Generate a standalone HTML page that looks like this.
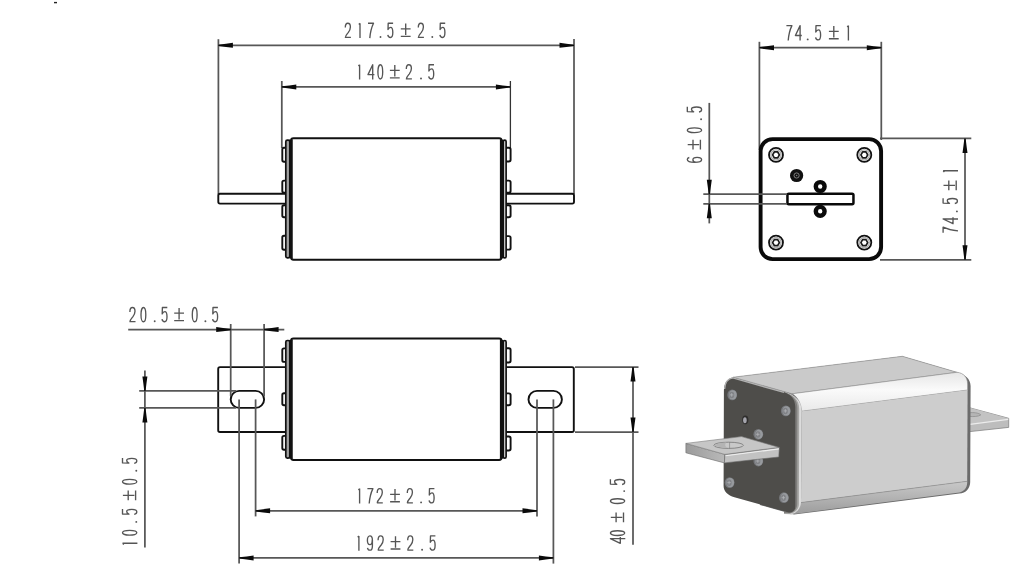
<!DOCTYPE html>
<html><head><meta charset="utf-8"><title>Fuse drawing</title>
<style>html,body{margin:0;padding:0;background:#fff;}svg{display:block;} .t{fill:none;stroke:#555555;stroke-width:1.35px;stroke-linejoin:round;}</style>
</head><body>
<svg width="1030" height="578" viewBox="0 0 1030 578" font-family="Liberation Sans, sans-serif">
<rect width="1030" height="578" fill="#fff"/>
<defs>
<linearGradient id="hl" x1="0" y1="0" x2="0" y2="1"><stop offset="0" stop-color="#e6e6e6"/><stop offset="0.45" stop-color="#fafafa"/><stop offset="1" stop-color="#e9e9e9"/></linearGradient>
<linearGradient id="bot" x1="0" y1="0" x2="0" y2="1"><stop offset="0" stop-color="#c9c9c9"/><stop offset="1" stop-color="#9c9c9c"/></linearGradient>
<linearGradient id="bls" x1="0" y1="0" x2="1" y2="0"><stop offset="0" stop-color="#9b9b9b"/><stop offset="1" stop-color="#b9b9b9"/></linearGradient>
<radialGradient id="scr" cx="0.6" cy="0.4" r="0.6"><stop offset="0" stop-color="#b4b4b8"/><stop offset="1" stop-color="#6f6f74"/></radialGradient>
</defs><path d="M968,407.3 L1008.7,418.3 L1008.7,427.4 L968,431.8 Z" fill="#bdbdbd" stroke="#7a7a7a" stroke-width="0.7"/><path d="M968,407.3 L1008.7,418.4 L1008.7,419.1 L968,424.4 Z" fill="#c3c3c3"/><path d="M968,424.6 L1008.2,419.4" stroke="#ececec" stroke-width="1.1"/><path d="M969,412.8 C973,412.2 979,412.8 980.8,414.9 C978.5,416.6 973,416.8 969,416.4" fill="#b5b5b5" stroke="#8a8a8a" stroke-width="0.7"/><path d="M733.2,377.2 L902.4,356.3 L957,372.3 C965,374.5 970.6,379 970.6,386 L970.2,482 C970.2,488 966,493.3 959.4,493.6 L794,514.6 L760,505 Z" fill="#6b6b6b"/><path d="M733.2,377.2 L902.4,356.3 L957,372.3 L792,393.8 Z" fill="#cacaca" stroke="#8e8e8e" stroke-width="0.6"/><path d="M792,393.8 L957,372.3 C963.5,372.8 967.6,377.5 967.6,384 L967.6,390 L801.7,411.2 C801,403 797,396 792,393.8 Z" fill="url(#hl)" stroke="#8e8e8e" stroke-width="0.6"/><path d="M801.7,411.2 L967.6,390 L967.2,481.3 L801,502.6 Z" fill="#cdcdcd"/><path d="M801,502.6 L967.2,481.3 C967.6,487.5 964,491.6 959.4,492.4 L790,514.4 C795,512 797.5,508 798,503 Z" fill="url(#bot)"/><path d="M797.5,503 L967.2,481.3" stroke="#8a8a8a" stroke-width="0.6"/><path d="M784,392 C795,394.5 801.7,401 801.7,411.2 L801,502.6 C800.6,509 796.5,513.2 790,514.4 L784,514 Z" fill="#dcdcdc"/><path d="M784,392.1 C793.5,394.6 799.2,400 799.2,409 L798.9,504 C798.9,509 795.5,512.6 790,513.8 L784,513.8 Z" fill="#a6a6a4"/><path d="M784,392.2 C792,394.5 797.4,399.5 797.4,408 L797.2,504 C797.2,508.5 794.5,512 790,513.2 L784,513.2 Z" fill="#7e7d7b"/><path d="M723.9,391 C723.9,384 727,378.3 732.8,377.6 L783.5,392 C790.5,394.2 795.3,399 795.3,407 L795.3,506.5 C795.3,510.3 792.8,512.8 788.8,512.6 L734.4,497.3 C728,495.4 723.6,491.5 723.6,486 Z" fill="#4e4d4a"/><path d="M724.6,389 C725,383 728,378.6 732.8,377.9 L784,392.4" fill="none" stroke="#b2b2b2" stroke-width="1.4"/><ellipse cx="732.2" cy="394.9" rx="4.86" ry="5.4" fill="#76787c"/><ellipse cx="732.8000000000001" cy="394.9" rx="3.89" ry="4.64" fill="#979a9e"/><ellipse cx="731.8000000000001" cy="395.0" rx="2.43" ry="3.24" fill="#808286"/><path d="M730.00,394.90 H733.40 M731.70,393.10 V396.70" stroke="#b0b2b6" stroke-width="0.8"/><ellipse cx="785.8" cy="410.9" rx="4.86" ry="5.4" fill="#76787c"/><ellipse cx="786.4" cy="410.9" rx="3.89" ry="4.64" fill="#979a9e"/><ellipse cx="785.4" cy="411.0" rx="2.43" ry="3.24" fill="#808286"/><path d="M783.60,410.90 H787.00 M785.30,409.10 V412.70" stroke="#b0b2b6" stroke-width="0.8"/><ellipse cx="729.6" cy="482.6" rx="4.86" ry="5.4" fill="#76787c"/><ellipse cx="730.2" cy="482.6" rx="3.89" ry="4.64" fill="#979a9e"/><ellipse cx="729.2" cy="482.70000000000005" rx="2.43" ry="3.24" fill="#808286"/><path d="M727.40,482.60 H730.80 M729.10,480.80 V484.40" stroke="#b0b2b6" stroke-width="0.8"/><ellipse cx="783.9" cy="497.7" rx="4.86" ry="5.4" fill="#76787c"/><ellipse cx="784.5" cy="497.7" rx="3.89" ry="4.64" fill="#979a9e"/><ellipse cx="783.5" cy="497.8" rx="2.43" ry="3.24" fill="#808286"/><path d="M781.70,497.70 H785.10 M783.40,495.90 V499.50" stroke="#b0b2b6" stroke-width="0.8"/><ellipse cx="758.3" cy="434.3" rx="4.86" ry="5.4" fill="#76787c"/><ellipse cx="758.9" cy="434.3" rx="3.89" ry="4.64" fill="#979a9e"/><ellipse cx="757.9" cy="434.40000000000003" rx="2.43" ry="3.24" fill="#808286"/><path d="M756.10,434.30 H759.50 M757.80,432.50 V436.10" stroke="#b0b2b6" stroke-width="0.8"/><ellipse cx="758.3" cy="461.0" rx="4.86" ry="5.4" fill="#76787c"/><ellipse cx="758.9" cy="461.0" rx="3.89" ry="4.64" fill="#979a9e"/><ellipse cx="757.9" cy="461.1" rx="2.43" ry="3.24" fill="#808286"/><path d="M756.10,461.00 H759.50 M757.80,459.20 V462.80" stroke="#b0b2b6" stroke-width="0.8"/><ellipse cx="745.3" cy="419.8" rx="3.1" ry="4.4" fill="#2f2e2d"/><ellipse cx="744.9" cy="420.2" rx="1.8" ry="3.0" fill="#a4a4ac"/><path d="M685.9,443.4 L724.9,454.4 L724.4,462.9 L685.9,452.8 Z" fill="url(#bls)" stroke="#6a6a6a" stroke-width="0.6"/><path d="M724.9,454.4 L779.3,447.4 L778.8,457 L724.4,462.9 Z" fill="#c2c2c2" stroke="#6a6a6a" stroke-width="0.6"/><path d="M725.5,455.8 L778.8,448.9" stroke="#efefef" stroke-width="1.1"/><path d="M685.9,443.4 L741.5,436.6 L779.3,447.4 L724.9,454.4 Z" fill="#c6c6c6" stroke="#7a7a7a" stroke-width="0.6"/><ellipse cx="728.6" cy="445.3" rx="14.8" ry="3.1" fill="#c9c9c9" stroke="#6a6a6a" stroke-width="0.7"/><path d="M714.5,445.6 C718,447.2 722,447.8 727,447.6 C725,446.5 724.5,444.2 726.5,442.6 C722,442.4 717,443.4 714.5,445.6 Z" fill="#b4b4b4"/><path d="M729.6,442.3 V448.3" stroke="#7a7a7a" stroke-width="0.6"/>
<g><rect x="54" y="1.9" width="3" height="1.4" fill="#222"/><line x1="218.4" y1="39.2" x2="218.4" y2="194" stroke="#575757" stroke-width="1.75"/><line x1="574.0" y1="39.0" x2="574.0" y2="194" stroke="#575757" stroke-width="1.75"/><line x1="218.4" y1="45.3" x2="574.0" y2="45.3" stroke="#575757" stroke-width="1.75"/><path d="M218.40,44.65 Q226.38,43.75 232.90,42.80 L232.90,47.80 Q226.38,46.85 218.40,45.95 Z" fill="#0a0a0a"/><path d="M574.00,45.95 Q566.02,46.85 559.50,47.80 L559.50,42.80 Q566.02,43.75 574.00,44.65 Z" fill="#0a0a0a"/><line x1="281.8" y1="81.0" x2="281.8" y2="148" stroke="#575757" stroke-width="1.75"/><line x1="510.4" y1="81.0" x2="510.4" y2="148" stroke="#333" stroke-width="1.3"/><line x1="281.8" y1="86.9" x2="510.4" y2="86.9" stroke="#575757" stroke-width="1.75"/><path d="M281.80,86.25 Q289.78,85.35 296.30,84.40 L296.30,89.40 Q289.78,88.45 281.80,87.55 Z" fill="#0a0a0a"/><path d="M510.40,87.55 Q502.42,88.45 495.90,89.40 L495.90,84.40 Q502.42,85.35 510.40,86.25 Z" fill="#0a0a0a"/><path d="M287,193.7 H220 Q218.3,193.7 218.3,195.5 V201.8 Q218.3,203.6 220,203.6 H287" fill="#fff" stroke="#111" stroke-width="1.9"/><path d="M505,193.7 H572.3 Q574,193.7 574,195.5 V201.8 Q574,203.6 572.3,203.6 H505" fill="#fff" stroke="#111" stroke-width="1.9"/><path d="M286,147.8 H284 Q282.3,147.8 282.3,149.5 V160.10000000000002 Q282.3,161.8 284,161.8 H286" fill="#fff" stroke="#111" stroke-width="1.9"/><path d="M286,180.6 H284 Q282.3,180.6 282.3,182.29999999999998 V190.9 Q282.3,192.6 284,192.6 H286" fill="#fff" stroke="#111" stroke-width="1.9"/><path d="M286,205.3 H284 Q282.3,205.3 282.3,207.0 V215.60000000000002 Q282.3,217.3 284,217.3 H286" fill="#fff" stroke="#111" stroke-width="1.9"/><path d="M286,235.8 H284 Q282.3,235.8 282.3,237.5 V248.10000000000002 Q282.3,249.8 284,249.8 H286" fill="#fff" stroke="#111" stroke-width="1.9"/><path d="M506,147.8 H508.8 Q510.6,147.8 510.6,149.5 V159.8 Q510.6,161.5 508.8,161.5 H506" fill="#fff" stroke="#111" stroke-width="1.9"/><path d="M506,180.6 H508.8 Q510.6,180.6 510.6,182.29999999999998 V190.9 Q510.6,192.6 508.8,192.6 H506" fill="#fff" stroke="#111" stroke-width="1.9"/><path d="M506,205.3 H508.8 Q510.6,205.3 510.6,207.0 V215.60000000000002 Q510.6,217.3 508.8,217.3 H506" fill="#fff" stroke="#111" stroke-width="1.9"/><path d="M506,236.1 H508.8 Q510.6,236.1 510.6,237.79999999999998 V247.9 Q510.6,249.6 508.8,249.6 H506" fill="#fff" stroke="#111" stroke-width="1.9"/><rect x="285.8" y="140.2" width="4.0" height="117.6" rx="1.6" fill="#a2a2a2" stroke="#111" stroke-width="1.7"/><rect x="503.4" y="140.2" width="2.7" height="117.6" rx="1.4" fill="#fff" stroke="#111" stroke-width="1.7"/><rect x="291.1" y="138.2" width="210.4" height="121.5" rx="2.4" fill="#fff" stroke="#111" stroke-width="2.1"/><rect x="289.2" y="139.6" width="3.5" height="118.7" fill="#111"/><rect x="499.9" y="139.6" width="3.4" height="118.7" fill="#111"/><g class="t" transform="translate(344.70,22.60)"><path d="M0.6,5.0 C0.6,2.0 1.7,0.6 3.1,0.6 C4.7,0.6 5.7,2.0 5.7,4.4 C5.7,6.8 4.8,8.3 3.5,10.0 C2.0,11.8 0.7,13.0 0.7,14.8 H6.2"/></g><g class="t" transform="translate(358.20,22.60)"><path d="M1.8,0.6 V15.5 M1.8,0.7 L0.6,1.9"/></g><g class="t" transform="translate(367.40,22.60)"><path d="M0.6,0.6 H6.1 C4.3,4.3 2.9,9.4 2.4,15.5"/></g><g class="t" transform="translate(379.60,22.60)"><circle cx="0.9" cy="14.4" r="0.95" fill="#555555" stroke="none"/></g><g class="t" transform="translate(387.20,22.60)"><path d="M5.9,0.6 H1.0 L0.8,7.0 C1.4,5.5 2.4,4.8 3.4,4.8 C5.0,4.8 5.6,6.8 5.6,9.9 C5.6,13.2 4.7,14.9 3.2,14.9 C1.8,14.9 0.9,13.9 0.6,12.3"/></g><g class="t" transform="translate(400.80,22.60)"><path d="M4.9,1.0 V12.5 M0,6.3 H9.8 M0,13.7 H9.8"/></g><g class="t" transform="translate(417.70,22.60)"><path d="M0.6,5.0 C0.6,2.0 1.7,0.6 3.1,0.6 C4.7,0.6 5.7,2.0 5.7,4.4 C5.7,6.8 4.8,8.3 3.5,10.0 C2.0,11.8 0.7,13.0 0.7,14.8 H6.2"/></g><g class="t" transform="translate(431.40,22.60)"><circle cx="0.9" cy="14.4" r="0.95" fill="#555555" stroke="none"/></g><g class="t" transform="translate(439.30,22.60)"><path d="M5.9,0.6 H1.0 L0.8,7.0 C1.4,5.5 2.4,4.8 3.4,4.8 C5.0,4.8 5.6,6.8 5.6,9.9 C5.6,13.2 4.7,14.9 3.2,14.9 C1.8,14.9 0.9,13.9 0.6,12.3"/></g><g class="t" transform="translate(357.80,64.10)"><path d="M1.8,0.6 V15.5 M1.8,0.7 L0.6,1.9"/></g><g class="t" transform="translate(367.40,64.10)"><path d="M5.3,15.5 V0.6 L0.6,10.5 H7.0"/></g><g class="t" transform="translate(377.30,64.10)"><ellipse cx="3.0" cy="7.75" rx="2.4" ry="7.15"/></g><g class="t" transform="translate(389.90,64.10)"><path d="M4.9,1.0 V12.5 M0,6.3 H9.8 M0,13.7 H9.8"/></g><g class="t" transform="translate(405.70,64.10)"><path d="M0.6,5.0 C0.6,2.0 1.7,0.6 3.1,0.6 C4.7,0.6 5.7,2.0 5.7,4.4 C5.7,6.8 4.8,8.3 3.5,10.0 C2.0,11.8 0.7,13.0 0.7,14.8 H6.2"/></g><g class="t" transform="translate(420.10,64.10)"><circle cx="0.9" cy="14.4" r="0.95" fill="#555555" stroke="none"/></g><g class="t" transform="translate(428.10,64.10)"><path d="M5.9,0.6 H1.0 L0.8,7.0 C1.4,5.5 2.4,4.8 3.4,4.8 C5.0,4.8 5.6,6.8 5.6,9.9 C5.6,13.2 4.7,14.9 3.2,14.9 C1.8,14.9 0.9,13.9 0.6,12.3"/></g><line x1="759.4" y1="41.8" x2="759.4" y2="150" stroke="#575757" stroke-width="1.75"/><line x1="881.3" y1="41.8" x2="881.3" y2="140" stroke="#575757" stroke-width="1.75"/><line x1="759.5" y1="47.7" x2="881.3" y2="47.7" stroke="#575757" stroke-width="1.75"/><path d="M759.50,47.05 Q767.48,46.15 774.00,45.20 L774.00,50.20 Q767.48,49.25 759.50,48.35 Z" fill="#0a0a0a"/><path d="M881.30,48.35 Q873.32,49.25 866.80,50.20 L866.80,45.20 Q873.32,46.15 881.30,47.05 Z" fill="#0a0a0a"/><g class="t" transform="translate(785.80,25.00)"><path d="M0.6,0.6 H6.1 C4.3,4.3 2.9,9.4 2.4,15.5"/></g><g class="t" transform="translate(794.80,25.00)"><path d="M5.3,15.5 V0.6 L0.6,10.5 H7.0"/></g><g class="t" transform="translate(806.80,25.00)"><circle cx="0.9" cy="14.4" r="0.95" fill="#555555" stroke="none"/></g><g class="t" transform="translate(815.00,25.00)"><path d="M5.9,0.6 H1.0 L0.8,7.0 C1.4,5.5 2.4,4.8 3.4,4.8 C5.0,4.8 5.6,6.8 5.6,9.9 C5.6,13.2 4.7,14.9 3.2,14.9 C1.8,14.9 0.9,13.9 0.6,12.3"/></g><g class="t" transform="translate(828.90,25.00)"><path d="M4.9,1.0 V12.5 M0,6.3 H9.8 M0,13.7 H9.8"/></g><g class="t" transform="translate(846.60,25.00)"><path d="M1.8,0.6 V15.5 M1.8,0.7 L0.6,1.9"/></g><rect x="760.6" y="139.1" width="120.5" height="120.0" rx="12" fill="#fff" stroke="#0a0a0a" stroke-width="3.9"/><line x1="880" y1="138.4" x2="971.3" y2="138.4" stroke="#575757" stroke-width="1.75"/><line x1="880" y1="259.8" x2="971.3" y2="259.8" stroke="#575757" stroke-width="1.75"/><line x1="965.0" y1="138.4" x2="965.0" y2="259.8" stroke="#575757" stroke-width="1.75"/><path d="M965.65,138.40 Q966.55,146.38 967.50,152.90 L962.50,152.90 Q963.45,146.38 964.35,138.40 Z" fill="#0a0a0a"/><path d="M964.35,259.80 Q963.45,251.83 962.50,245.30 L967.50,245.30 Q966.55,251.83 965.65,259.80 Z" fill="#0a0a0a"/><g class="t" transform="translate(942.5,233.3) rotate(-90)"><g class="t" transform="translate(0.00,0)"><path d="M0.6,0.6 H6.1 C4.3,4.3 2.9,9.4 2.4,15.5"/></g><g class="t" transform="translate(9.00,0)"><path d="M5.3,15.5 V0.6 L0.6,10.5 H7.0"/></g><g class="t" transform="translate(21.00,0)"><circle cx="0.9" cy="14.4" r="0.95" fill="#555555" stroke="none"/></g><g class="t" transform="translate(29.20,0)"><path d="M5.9,0.6 H1.0 L0.8,7.0 C1.4,5.5 2.4,4.8 3.4,4.8 C5.0,4.8 5.6,6.8 5.6,9.9 C5.6,13.2 4.7,14.9 3.2,14.9 C1.8,14.9 0.9,13.9 0.6,12.3"/></g><g class="t" transform="translate(43.10,0)"><path d="M4.9,1.0 V12.5 M0,6.3 H9.8 M0,13.7 H9.8"/></g><g class="t" transform="translate(60.80,0)"><path d="M1.8,0.6 V15.5 M1.8,0.7 L0.6,1.9"/></g></g><circle cx="776.0" cy="154.9" r="7.0" fill="#fff" stroke="#111" stroke-width="1.8"/><circle cx="776.0" cy="154.9" r="5.1" fill="none" stroke="#b0b0b0" stroke-width="1.3"/><path d="M779.40,154.90 L777.70,157.84 L774.30,157.84 L772.60,154.90 L774.30,151.96 L777.70,151.96 Z" fill="#fff" stroke="#1a1a1a" stroke-width="1.7" stroke-linejoin="round"/><circle cx="864.3" cy="154.9" r="7.0" fill="#fff" stroke="#111" stroke-width="1.8"/><circle cx="864.3" cy="154.9" r="5.1" fill="none" stroke="#b0b0b0" stroke-width="1.3"/><path d="M867.70,154.90 L866.00,157.84 L862.60,157.84 L860.90,154.90 L862.60,151.96 L866.00,151.96 Z" fill="#fff" stroke="#1a1a1a" stroke-width="1.7" stroke-linejoin="round"/><circle cx="776.0" cy="242.6" r="7.0" fill="#fff" stroke="#111" stroke-width="1.8"/><circle cx="776.0" cy="242.6" r="5.1" fill="none" stroke="#b0b0b0" stroke-width="1.3"/><path d="M779.40,242.60 L777.70,245.54 L774.30,245.54 L772.60,242.60 L774.30,239.66 L777.70,239.66 Z" fill="#fff" stroke="#1a1a1a" stroke-width="1.7" stroke-linejoin="round"/><circle cx="864.3" cy="242.6" r="7.0" fill="#fff" stroke="#111" stroke-width="1.8"/><circle cx="864.3" cy="242.6" r="5.1" fill="none" stroke="#b0b0b0" stroke-width="1.3"/><path d="M867.70,242.60 L866.00,245.54 L862.60,245.54 L860.90,242.60 L862.60,239.66 L866.00,239.66 Z" fill="#fff" stroke="#1a1a1a" stroke-width="1.7" stroke-linejoin="round"/><circle cx="796.6" cy="175.5" r="6.6" fill="#111"/><circle cx="796.6" cy="175.5" r="2.6" fill="none" stroke="#8a8a8a" stroke-width="0.9"/><circle cx="796.6" cy="175.5" r="0.8" fill="#777"/><circle cx="820.2" cy="186.5" r="4.4" fill="#fff" stroke="#0a0a0a" stroke-width="4.4"/><circle cx="820.2" cy="211.3" r="4.4" fill="#fff" stroke="#0a0a0a" stroke-width="4.4"/><rect x="787.45" y="193.65" width="66" height="10.5" rx="1.4" fill="#fff" stroke="#0a0a0a" stroke-width="2.5"/><line x1="703.3" y1="194.2" x2="787" y2="194.2" stroke="#575757" stroke-width="1.75"/><line x1="703.3" y1="203.8" x2="787" y2="203.8" stroke="#575757" stroke-width="1.75"/><line x1="709.3" y1="102.9" x2="709.3" y2="223.4" stroke="#575757" stroke-width="1.75"/><path d="M708.65,194.20 Q707.75,186.22 706.80,179.70 L711.80,179.70 Q710.85,186.22 709.95,194.20 Z" fill="#0a0a0a"/><path d="M709.95,203.80 Q710.85,211.78 711.80,218.30 L706.80,218.30 Q707.75,211.78 708.65,203.80 Z" fill="#0a0a0a"/><g class="t" transform="translate(686.7,162.9) rotate(-90)"><g class="t" transform="translate(0.00,0)"><path d="M5.4,2.6 C5.0,1.2 4.3,0.6 3.3,0.6 C1.6,0.6 0.6,2.9 0.6,7.6 C0.6,12.6 1.6,14.9 3.2,14.9 C4.8,14.9 5.6,13.1 5.6,10.4 C5.6,7.6 4.6,6.2 3.2,6.2 C1.9,6.2 0.9,7.4 0.6,9.2"/></g><g class="t" transform="translate(13.40,0)"><path d="M4.9,1.0 V12.5 M0,6.3 H9.8 M0,13.7 H9.8"/></g><g class="t" transform="translate(29.70,0)"><ellipse cx="3.0" cy="7.75" rx="2.4" ry="7.15"/></g><g class="t" transform="translate(42.80,0)"><circle cx="0.9" cy="14.4" r="0.95" fill="#555555" stroke="none"/></g><g class="t" transform="translate(50.30,0)"><path d="M5.9,0.6 H1.0 L0.8,7.0 C1.4,5.5 2.4,4.8 3.4,4.8 C5.0,4.8 5.6,6.8 5.6,9.9 C5.6,13.2 4.7,14.9 3.2,14.9 C1.8,14.9 0.9,13.9 0.6,12.3"/></g></g><path d="M287,367.1 H220 Q218.2,367.1 218.2,368.9 V430.2 Q218.2,432 220,432 H287" fill="#fff" stroke="#111" stroke-width="1.9"/><path d="M505,367.1 H572 Q573.8,367.1 573.8,368.9 V430.2 Q573.8,432 572,432 H505" fill="#fff" stroke="#111" stroke-width="1.9"/><rect x="230.7" y="390.9" width="33.4" height="17.0" rx="8.5" fill="#fff" stroke="#111" stroke-width="1.9"/><rect x="528.5" y="390.9" width="33.4" height="17.0" rx="8.5" fill="#fff" stroke="#111" stroke-width="1.9"/><path d="M286,348.4 H284 Q282.3,348.4 282.3,350.09999999999997 V360.2 Q282.3,361.9 284,361.9 H286" fill="#fff" stroke="#111" stroke-width="1.9"/><path d="M286,393.2 H284 Q282.3,393.2 282.3,394.9 V403.5 Q282.3,405.2 284,405.2 H286" fill="#fff" stroke="#111" stroke-width="1.9"/><path d="M286,435.9 H284 Q282.3,435.9 282.3,437.59999999999997 V448.0 Q282.3,449.7 284,449.7 H286" fill="#fff" stroke="#111" stroke-width="1.9"/><path d="M506,348.2 H508.8 Q510.6,348.2 510.6,349.9 V360.8 Q510.6,362.5 508.8,362.5 H506" fill="#fff" stroke="#111" stroke-width="1.9"/><path d="M506,393.4 H508.8 Q510.6,393.4 510.6,395.09999999999997 V403.5 Q510.6,405.2 508.8,405.2 H506" fill="#fff" stroke="#111" stroke-width="1.9"/><path d="M506,436.5 H508.8 Q510.6,436.5 510.6,438.2 V448.8 Q510.6,450.5 508.8,450.5 H506" fill="#fff" stroke="#111" stroke-width="1.9"/><rect x="285.8" y="340.5" width="4.0" height="117.6" rx="1.6" fill="#a2a2a2" stroke="#111" stroke-width="1.7"/><rect x="503.4" y="340.5" width="2.7" height="117.6" rx="1.4" fill="#fff" stroke="#111" stroke-width="1.7"/><rect x="291.1" y="338.5" width="210.4" height="121.5" rx="2.4" fill="#fff" stroke="#111" stroke-width="2.1"/><rect x="289.2" y="339.9" width="3.5" height="118.7" fill="#111"/><rect x="499.9" y="339.9" width="3.4" height="118.7" fill="#111"/><line x1="230.7" y1="324" x2="230.7" y2="396" stroke="#575757" stroke-width="1.75"/><line x1="264.1" y1="324" x2="264.1" y2="396" stroke="#575757" stroke-width="1.75"/><line x1="128.2" y1="329.5" x2="284.3" y2="329.5" stroke="#575757" stroke-width="1.75"/><path d="M230.70,330.15 Q222.72,331.05 216.20,332.00 L216.20,327.00 Q222.72,327.95 230.70,328.85 Z" fill="#0a0a0a"/><path d="M264.10,328.85 Q272.08,327.95 278.60,327.00 L278.60,332.00 Q272.08,331.05 264.10,330.15 Z" fill="#0a0a0a"/><g class="t" transform="translate(129.30,306.90)"><path d="M0.6,5.0 C0.6,2.0 1.7,0.6 3.1,0.6 C4.7,0.6 5.7,2.0 5.7,4.4 C5.7,6.8 4.8,8.3 3.5,10.0 C2.0,11.8 0.7,13.0 0.7,14.8 H6.2"/></g><g class="t" transform="translate(140.40,306.90)"><ellipse cx="3.0" cy="7.75" rx="2.4" ry="7.15"/></g><g class="t" transform="translate(153.80,306.90)"><circle cx="0.9" cy="14.4" r="0.95" fill="#555555" stroke="none"/></g><g class="t" transform="translate(161.40,306.90)"><path d="M5.9,0.6 H1.0 L0.8,7.0 C1.4,5.5 2.4,4.8 3.4,4.8 C5.0,4.8 5.6,6.8 5.6,9.9 C5.6,13.2 4.7,14.9 3.2,14.9 C1.8,14.9 0.9,13.9 0.6,12.3"/></g><g class="t" transform="translate(174.20,306.90)"><path d="M4.9,1.0 V12.5 M0,6.3 H9.8 M0,13.7 H9.8"/></g><g class="t" transform="translate(191.70,306.90)"><ellipse cx="3.0" cy="7.75" rx="2.4" ry="7.15"/></g><g class="t" transform="translate(204.50,306.90)"><circle cx="0.9" cy="14.4" r="0.95" fill="#555555" stroke="none"/></g><g class="t" transform="translate(212.00,306.90)"><path d="M5.9,0.6 H1.0 L0.8,7.0 C1.4,5.5 2.4,4.8 3.4,4.8 C5.0,4.8 5.6,6.8 5.6,9.9 C5.6,13.2 4.7,14.9 3.2,14.9 C1.8,14.9 0.9,13.9 0.6,12.3"/></g><line x1="139.2" y1="390.9" x2="236" y2="390.9" stroke="#575757" stroke-width="1.75"/><line x1="139.2" y1="407.9" x2="236" y2="407.9" stroke="#575757" stroke-width="1.75"/><line x1="144.9" y1="370.4" x2="144.9" y2="547.6" stroke="#575757" stroke-width="1.75"/><path d="M144.25,390.90 Q143.35,382.92 142.40,376.40 L147.40,376.40 Q146.45,382.92 145.55,390.90 Z" fill="#0a0a0a"/><path d="M145.55,407.90 Q146.45,415.88 147.40,422.40 L142.40,422.40 Q143.35,415.88 144.25,407.90 Z" fill="#0a0a0a"/><g class="t" transform="translate(121.9,545.0) rotate(-90)"><g class="t" transform="translate(0.00,0)"><path d="M1.8,0.6 V15.5 M1.8,0.7 L0.6,1.9"/></g><g class="t" transform="translate(9.20,0)"><ellipse cx="3.0" cy="7.75" rx="2.4" ry="7.15"/></g><g class="t" transform="translate(22.20,0)"><circle cx="0.9" cy="14.4" r="0.95" fill="#555555" stroke="none"/></g><g class="t" transform="translate(30.00,0)"><path d="M5.9,0.6 H1.0 L0.8,7.0 C1.4,5.5 2.4,4.8 3.4,4.8 C5.0,4.8 5.6,6.8 5.6,9.9 C5.6,13.2 4.7,14.9 3.2,14.9 C1.8,14.9 0.9,13.9 0.6,12.3"/></g><g class="t" transform="translate(44.70,0)"><path d="M4.9,1.0 V12.5 M0,6.3 H9.8 M0,13.7 H9.8"/></g><g class="t" transform="translate(60.30,0)"><ellipse cx="3.0" cy="7.75" rx="2.4" ry="7.15"/></g><g class="t" transform="translate(73.30,0)"><circle cx="0.9" cy="14.4" r="0.95" fill="#555555" stroke="none"/></g><g class="t" transform="translate(81.10,0)"><path d="M5.9,0.6 H1.0 L0.8,7.0 C1.4,5.5 2.4,4.8 3.4,4.8 C5.0,4.8 5.6,6.8 5.6,9.9 C5.6,13.2 4.7,14.9 3.2,14.9 C1.8,14.9 0.9,13.9 0.6,12.3"/></g></g><line x1="575" y1="367.0" x2="638.5" y2="367.0" stroke="#575757" stroke-width="1.75"/><line x1="575" y1="432.0" x2="638.5" y2="432.0" stroke="#575757" stroke-width="1.75"/><line x1="633.0" y1="367.0" x2="633.0" y2="544.8" stroke="#575757" stroke-width="1.75"/><path d="M633.65,367.00 Q634.55,374.98 635.50,381.50 L630.50,381.50 Q631.45,374.98 632.35,367.00 Z" fill="#0a0a0a"/><path d="M632.35,432.00 Q631.45,424.02 630.50,417.50 L635.50,417.50 Q634.55,424.02 633.65,432.00 Z" fill="#0a0a0a"/><g class="t" transform="translate(609.8,543.9) rotate(-90)"><g class="t" transform="translate(0.00,0)"><path d="M5.3,15.5 V0.6 L0.6,10.5 H7.0"/></g><g class="t" transform="translate(7.80,0)"><ellipse cx="3.0" cy="7.75" rx="2.4" ry="7.15"/></g><g class="t" transform="translate(21.60,0)"><path d="M4.9,1.0 V12.5 M0,6.3 H9.8 M0,13.7 H9.8"/></g><g class="t" transform="translate(39.80,0)"><ellipse cx="3.0" cy="7.75" rx="2.4" ry="7.15"/></g><g class="t" transform="translate(51.90,0)"><circle cx="0.9" cy="14.4" r="0.95" fill="#555555" stroke="none"/></g><g class="t" transform="translate(58.80,0)"><path d="M5.9,0.6 H1.0 L0.8,7.0 C1.4,5.5 2.4,4.8 3.4,4.8 C5.0,4.8 5.6,6.8 5.6,9.9 C5.6,13.2 4.7,14.9 3.2,14.9 C1.8,14.9 0.9,13.9 0.6,12.3"/></g></g><line x1="255.6" y1="399.4" x2="255.6" y2="516.4" stroke="#575757" stroke-width="1.75"/><line x1="537.0" y1="399.4" x2="537.0" y2="516.4" stroke="#575757" stroke-width="1.75"/><line x1="255.6" y1="510.8" x2="537.0" y2="510.8" stroke="#575757" stroke-width="1.75"/><path d="M255.60,510.15 Q263.57,509.25 270.10,508.30 L270.10,513.30 Q263.57,512.35 255.60,511.45 Z" fill="#0a0a0a"/><path d="M537.00,511.45 Q529.02,512.35 522.50,513.30 L522.50,508.30 Q529.02,509.25 537.00,510.15 Z" fill="#0a0a0a"/><line x1="239.1" y1="399.4" x2="239.1" y2="563.6" stroke="#575757" stroke-width="1.75"/><line x1="553.4" y1="399.4" x2="553.4" y2="563.6" stroke="#575757" stroke-width="1.75"/><line x1="239.1" y1="557.9" x2="553.4" y2="557.9" stroke="#575757" stroke-width="1.75"/><path d="M239.10,557.25 Q247.07,556.35 253.60,555.40 L253.60,560.40 Q247.07,559.45 239.10,558.55 Z" fill="#0a0a0a"/><path d="M553.40,558.55 Q545.42,559.45 538.90,560.40 L538.90,555.40 Q545.42,556.35 553.40,557.25 Z" fill="#0a0a0a"/><g class="t" transform="translate(357.80,488.00)"><path d="M1.8,0.6 V15.5 M1.8,0.7 L0.6,1.9"/></g><g class="t" transform="translate(366.80,488.00)"><path d="M0.6,0.6 H6.1 C4.3,4.3 2.9,9.4 2.4,15.5"/></g><g class="t" transform="translate(376.60,488.00)"><path d="M0.6,5.0 C0.6,2.0 1.7,0.6 3.1,0.6 C4.7,0.6 5.7,2.0 5.7,4.4 C5.7,6.8 4.8,8.3 3.5,10.0 C2.0,11.8 0.7,13.0 0.7,14.8 H6.2"/></g><g class="t" transform="translate(390.10,488.00)"><path d="M4.9,1.0 V12.5 M0,6.3 H9.8 M0,13.7 H9.8"/></g><g class="t" transform="translate(406.70,488.00)"><path d="M0.6,5.0 C0.6,2.0 1.7,0.6 3.1,0.6 C4.7,0.6 5.7,2.0 5.7,4.4 C5.7,6.8 4.8,8.3 3.5,10.0 C2.0,11.8 0.7,13.0 0.7,14.8 H6.2"/></g><g class="t" transform="translate(420.20,488.00)"><circle cx="0.9" cy="14.4" r="0.95" fill="#555555" stroke="none"/></g><g class="t" transform="translate(428.50,488.00)"><path d="M5.9,0.6 H1.0 L0.8,7.0 C1.4,5.5 2.4,4.8 3.4,4.8 C5.0,4.8 5.6,6.8 5.6,9.9 C5.6,13.2 4.7,14.9 3.2,14.9 C1.8,14.9 0.9,13.9 0.6,12.3"/></g><g class="t" transform="translate(357.10,535.30)"><path d="M1.8,0.6 V15.5 M1.8,0.7 L0.6,1.9"/></g><g class="t" transform="translate(366.80,535.30)"><ellipse cx="3.1" cy="5.0" rx="2.5" ry="4.4"/><path d="M5.6,5.0 V10.6 C5.6,13.4 4.7,14.9 3.1,14.9 C1.9,14.9 1.0,14.0 0.7,12.5"/></g><g class="t" transform="translate(377.50,535.30)"><path d="M0.6,5.0 C0.6,2.0 1.7,0.6 3.1,0.6 C4.7,0.6 5.7,2.0 5.7,4.4 C5.7,6.8 4.8,8.3 3.5,10.0 C2.0,11.8 0.7,13.0 0.7,14.8 H6.2"/></g><g class="t" transform="translate(390.60,535.30)"><path d="M4.9,1.0 V12.5 M0,6.3 H9.8 M0,13.7 H9.8"/></g><g class="t" transform="translate(407.10,535.30)"><path d="M0.6,5.0 C0.6,2.0 1.7,0.6 3.1,0.6 C4.7,0.6 5.7,2.0 5.7,4.4 C5.7,6.8 4.8,8.3 3.5,10.0 C2.0,11.8 0.7,13.0 0.7,14.8 H6.2"/></g><g class="t" transform="translate(421.20,535.30)"><circle cx="0.9" cy="14.4" r="0.95" fill="#555555" stroke="none"/></g><g class="t" transform="translate(429.50,535.30)"><path d="M5.9,0.6 H1.0 L0.8,7.0 C1.4,5.5 2.4,4.8 3.4,4.8 C5.0,4.8 5.6,6.8 5.6,9.9 C5.6,13.2 4.7,14.9 3.2,14.9 C1.8,14.9 0.9,13.9 0.6,12.3"/></g></g>
</svg>
</body></html>
